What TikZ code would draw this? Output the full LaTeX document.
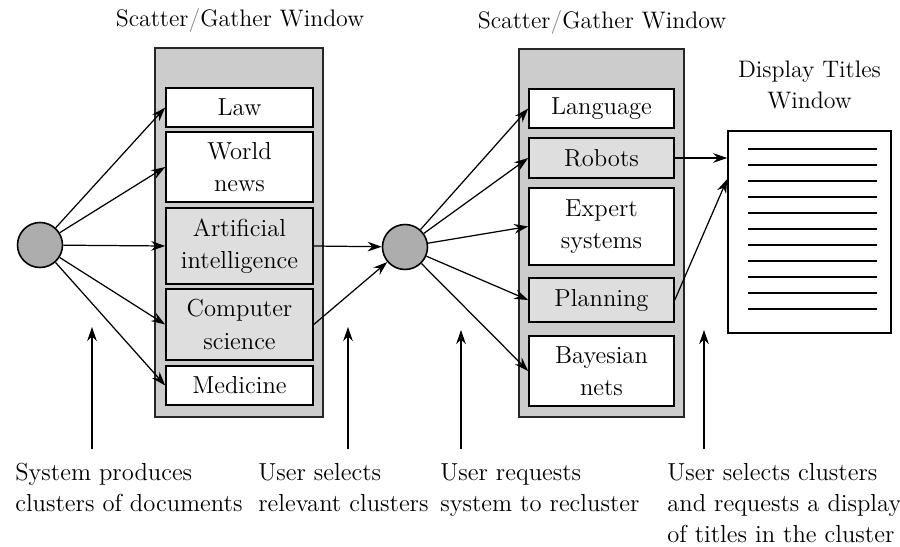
\documentclass[tikz,border=0pt]{standalone}
\usepackage{tikz}
\usetikzlibrary{positioning}
\usetikzlibrary{arrows.meta}
\usetikzlibrary{calc}
\definecolor{winfill}{gray}{0.80}
\definecolor{selfill}{gray}{0.87}
\definecolor{dotfill}{gray}{0.68}

\begin{document}
\begin{tikzpicture}[x=0.02cm, y=-0.02cm, >={Stealth[length=8pt,width=5.5pt]},
win/.style={draw=black!85, line width=1.3pt, fill=winfill, inner sep=0pt},
cluster/.style={draw, line width=0.9pt, fill=white, align=center, inner sep=0pt, font=\fontsize{14}{18.5}\selectfont},
picked/.style={cluster, fill=selfill},
hub/.style={circle, draw, line width=0.9pt, fill=dotfill, minimum size=0.9cm, inner sep=0pt},
note/.style={anchor=north west, align=left, inner sep=0pt, font=\fontsize{14}{17.6}\selectfont},
title/.style={align=center, inner sep=0pt, font=\fontsize{13.6}{17.6}\selectfont},
flow/.style={->, line width=0.7pt}]

\useasboundingbox (0,0) rectangle (900,547);

% the two scatter/gather windows
\node[win, minimum width=3.36cm, minimum height=7.38cm] (win1) at (239,232.5) {};
\node[win, minimum width=3.3cm, minimum height=7.36cm] (win2) at (601.5,233) {};
\node[title] (t1) at (240,21) {Scatter{\color{gray}/}Gather Window};
\node[title] (t2) at (602,23) {Scatter{\color{gray}/}Gather Window};

\node[cluster, minimum width=2.94cm, minimum height=0.78cm] (law) at (239.5,107.5) {Law};
\node[cluster, minimum width=2.94cm, minimum height=1.4cm] (world) at (239.5,167) {World\\news};
\node[picked, minimum width=2.94cm, minimum height=1.52cm] (ai) at (239.5,246) {Artificial\\intelligence};
\node[picked, minimum width=2.94cm, minimum height=1.42cm] (cs) at (239.5,324.5) {Computer\\science};
\node[cluster, minimum width=2.94cm, minimum height=0.78cm] (med) at (239.5,385.5) {Medicine};

\node[cluster, minimum width=2.9cm, minimum height=0.78cm] (lang) at (601.5,108.5) {Language};
\node[picked, minimum width=2.9cm, minimum height=0.8cm] (robots) at (601.5,158) {Robots};
\node[cluster, minimum width=2.9cm, minimum height=1.54cm] (expert) at (601.5,226.5) {Expert\\systems};
\node[picked, minimum width=2.9cm, minimum height=0.88cm] (plan) at (601.5,300) {Planning};
\node[cluster, minimum width=2.9cm, minimum height=1.4cm] (bayes) at (601.5,371) {Bayesian\\nets};

\node[hub] (hub1) at (40,245) {};
\node[hub] (hub2) at (405,247) {};

% titles window
\node[draw, line width=0.9pt, fill=white, minimum width=3.26cm, minimum height=4.04cm] (disp) at (809.5,232) {};
\node[title, above=0.42cm of disp] (t3) {Display Titles\\Window};
\foreach \i in {0,...,10}
  \draw[line width=1pt] (748,{149+16*\i}) -- (877,{149+16*\i});

\foreach \b in {law,world,ai,cs,med}
  \draw[flow] (hub1) -- (\b.west);
\draw[flow] (ai.east) -- (hub2);
\draw[flow] (cs.east) -- (hub2);
\foreach \b in {lang,robots,expert,plan,bayes}
  \draw[flow] (hub2) -- (\b.west);
\draw[flow] (robots.east) -- (robots.east -| disp.west);
\coordinate (dispin) at ($(disp.north west)!0.24!(disp.south west)$);
\draw[flow] (plan.east) -- (dispin);

% notes below
\node[note] (n1) at (15,463) {System produces\\clusters of documents};
\node[note] (n2) at (258,463) {User selects\\relevant clusters};
\node[note] (n3) at (440,463) {User requests\\system to recluster};
\node[note] (n4) at (667,463) {User selects clusters\\and requests a display\\of titles in the cluster};

\coordinate (p1) at (92,449);  \coordinate (q1) at (92,327);
\coordinate (p2) at (348,449); \coordinate (q2) at (348,327);
\coordinate (p3) at (461,449); \coordinate (q3) at (461,330);
\coordinate (p4) at (704,449); \coordinate (q4) at (704,330);
\foreach \k in {1,2,3,4}
  \draw[flow] (p\k) -- (q\k);
\end{tikzpicture}
\end{document}
